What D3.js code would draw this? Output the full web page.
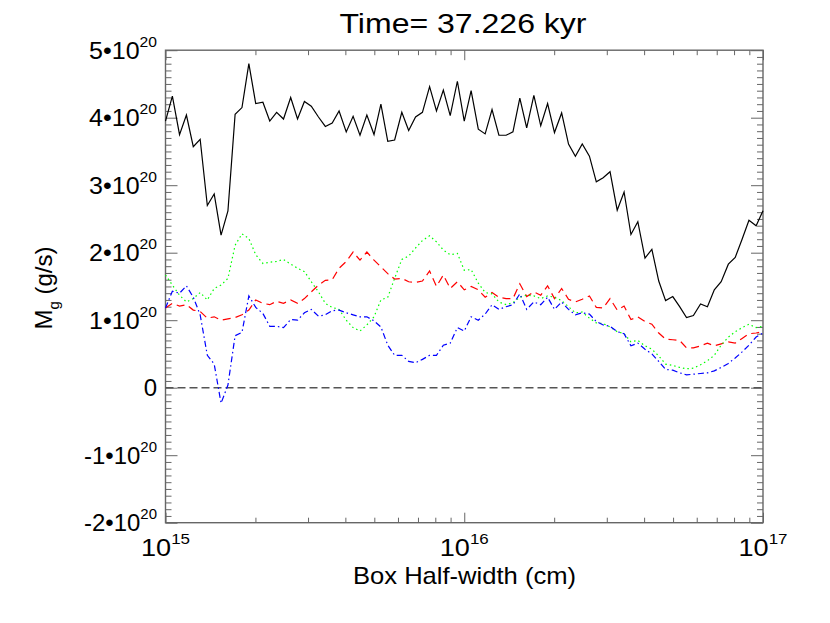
<!DOCTYPE html>
<html>
<head>
<meta charset="utf-8">
<script src="https://cdn.jsdelivr.net/npm/d3@7"></script>
<style>
  body { margin: 0; background: #fff; }
  text { font-family: 'Liberation Sans', Arial, Helvetica, sans-serif; fill: #000; }
</style>
</head>
<body>
<div id="chart"></div>
<script>
// log10 of box half-width (cm)
var logR = [
  15.000, 15.023, 15.047, 15.070, 15.093, 15.116, 15.140, 15.163, 15.186, 15.209,
  15.233, 15.256, 15.279, 15.302, 15.326, 15.349, 15.372, 15.395, 15.419, 15.442,
  15.465, 15.488, 15.512, 15.535, 15.558, 15.581, 15.605, 15.628, 15.651, 15.674,
  15.698, 15.721, 15.744, 15.767, 15.791, 15.814, 15.837, 15.860, 15.884, 15.907,
  15.930, 15.953, 15.977, 16.000, 16.023, 16.047, 16.070, 16.093, 16.116, 16.140,
  16.163, 16.186, 16.209, 16.233, 16.256, 16.279, 16.302, 16.326, 16.349, 16.372,
  16.395, 16.419, 16.442, 16.465, 16.488, 16.512, 16.535, 16.558, 16.581, 16.605,
  16.628, 16.651, 16.674, 16.698, 16.721, 16.744, 16.767, 16.791, 16.814, 16.837,
  16.860, 16.884, 16.907, 16.930, 16.953, 16.977, 17.000
];

// mass flux, units of 1e20 g/s
var mTotal = [
  3.95, 4.32, 3.75, 4.04, 3.57, 3.68, 2.70, 2.87, 2.26, 2.62,
  4.05, 4.15, 4.80, 4.21, 4.23, 3.95, 4.08, 3.98, 4.30, 3.98,
  4.24, 4.17, 4.01, 3.87, 3.92, 4.10, 3.79, 4.02, 3.74, 4.04,
  3.75, 4.20, 3.65, 3.67, 4.08, 3.81, 4.01, 4.08, 4.46, 4.10,
  4.41, 4.03, 4.54, 3.95, 4.40, 3.83, 3.76, 4.12, 3.74, 3.74,
  3.79, 4.29, 3.85, 4.33, 3.88, 4.21, 3.78, 4.07, 3.61, 3.43,
  3.61, 3.43, 3.05, 3.11, 3.20, 2.63, 2.90, 2.27, 2.46, 1.92,
  2.05, 1.58, 1.29, 1.35, 1.20, 1.04, 1.07, 1.24, 1.20, 1.45,
  1.57, 1.83, 1.93, 2.20, 2.48, 2.40, 2.62
];
var mRed = [
  1.18, 1.25, 1.21, 1.23, 1.15, 1.13, 1.03, 1.05, 1.00, 1.02,
  1.04, 1.08, 1.15, 1.30, 1.25, 1.23, 1.28, 1.25, 1.30, 1.25,
  1.32, 1.42, 1.52, 1.59, 1.60, 1.77, 1.87, 2.01, 1.89, 2.01,
  1.89, 1.79, 1.69, 1.61, 1.62, 1.57, 1.56, 1.58, 1.73, 1.50,
  1.67, 1.47, 1.57, 1.45, 1.50, 1.45, 1.34, 1.41, 1.34, 1.32,
  1.32, 1.54, 1.35, 1.42, 1.37, 1.51, 1.32, 1.47, 1.31, 1.27,
  1.31, 1.36, 1.19, 1.18, 1.32, 1.15, 1.21, 1.01, 1.05, 0.98,
  0.94, 0.81, 0.72, 0.71, 0.70, 0.59, 0.59, 0.62, 0.66, 0.62,
  0.65, 0.68, 0.66, 0.73, 0.80, 0.81, 0.83
];
var mGreen = [
  1.67, 1.52, 1.37, 1.27, 1.32, 1.41, 1.30, 1.47, 1.52, 1.62,
  2.11, 2.28, 2.21, 1.97, 1.84, 1.86, 1.87, 1.90, 1.83, 1.77,
  1.72, 1.57, 1.42, 1.25, 1.19, 1.16, 1.00, 0.89, 0.84, 0.93,
  1.05, 1.30, 1.34, 1.62, 1.90, 1.95, 2.07, 2.18, 2.25, 2.16,
  2.04, 1.97, 1.99, 1.74, 1.75, 1.55, 1.41, 1.39, 1.27, 1.23,
  1.26, 1.34, 1.37, 1.36, 1.32, 1.36, 1.34, 1.29, 1.20, 1.11,
  1.12, 1.03, 0.96, 0.95, 0.90, 0.83, 0.80, 0.68, 0.70, 0.62,
  0.57, 0.47, 0.35, 0.33, 0.30, 0.28, 0.29, 0.34, 0.40, 0.48,
  0.63, 0.75, 0.83, 0.89, 0.94, 0.89, 0.91
];
var mBlue = [
  1.18, 1.43, 1.40, 1.51, 1.34, 1.08, 0.48, 0.35, -0.23, 0.04,
  0.77, 0.82, 1.36, 1.19, 1.10, 0.91, 0.91, 0.89, 1.01, 1.00,
  1.11, 1.16, 1.06, 1.08, 1.14, 1.15, 1.11, 1.08, 1.05, 1.05,
  0.99, 0.90, 0.63, 0.48, 0.48, 0.39, 0.37, 0.42, 0.48, 0.48,
  0.63, 0.66, 0.89, 0.84, 1.05, 1.00, 1.09, 1.23, 1.16, 1.20,
  1.23, 1.39, 1.16, 1.27, 1.23, 1.34, 1.16, 1.27, 1.16, 1.08,
  1.11, 1.09, 0.98, 0.93, 0.91, 0.83, 0.80, 0.62, 0.66, 0.57,
  0.50, 0.39, 0.27, 0.26, 0.22, 0.19, 0.20, 0.21, 0.22, 0.25,
  0.30, 0.36, 0.44, 0.53, 0.63, 0.75, 0.81
];

var xMajor = [15, 16, 17];
var yMajor = [-2, -1, 0, 1, 2, 3, 4, 5];
var titleText = 'Time= 37.226 kyr';
var xTitle = 'Box Half-width (cm)';

var W = 830, H = 623;
var box = { left: 165.5, right: 763, top: 50.2, bottom: 522.7 };

var svg = d3.select('#chart').append('svg')
  .attr('width', W)
  .attr('height', H);

var x = d3.scaleLog()
  .domain([1e15, 1e17])
  .range([box.left, box.right]);

var y = d3.scaleLinear()
  .domain([-2, 5])
  .range([box.bottom, box.top]);

// minor ticks
var xMinor = [];
[15, 16].forEach(function(e) {
  for (var k = 2; k <= 9; k++) xMinor.push(k * Math.pow(10, e));
});
var yMinor = [];
for (var t = -20; t <= 50; t++) if (t % 10 !== 0) yMinor.push(t / 10);

function tickAxis(gen, values, size, tx, ty) {
  svg.append('g')
    .attr('class', 'tick-axis')
    .attr('transform', 'translate(' + tx + ',' + ty + ')')
    .call(gen.tickValues(values).tickSize(size).tickFormat(''))
    .call(function(g) { g.select('.domain').remove(); });
}

var majX = xMajor.map(function(e) { return Math.pow(10, e); });
tickAxis(d3.axisBottom(x), majX, -10, 0, box.bottom);
tickAxis(d3.axisBottom(x), xMinor, -5, 0, box.bottom);
tickAxis(d3.axisTop(x), majX, -10, 0, box.top);
tickAxis(d3.axisTop(x), xMinor, -5, 0, box.top);
tickAxis(d3.axisLeft(y), yMajor, -12, box.left, 0);
tickAxis(d3.axisLeft(y), yMinor, -6, box.left, 0);
tickAxis(d3.axisRight(y), yMajor, -12, box.right, 0);
tickAxis(d3.axisRight(y), yMinor, -6, box.right, 0);

svg.selectAll('.tick-axis line')
  .attr('stroke', '#666')
  .attr('stroke-width', 1);

// frame
svg.append('rect')
  .attr('x', box.left)
  .attr('y', box.top)
  .attr('width', box.right - box.left)
  .attr('height', box.bottom - box.top)
  .attr('fill', 'none')
  .attr('stroke', '#666')
  .attr('stroke-width', 1.4);

// tick labels
svg.append('g').selectAll('text')
  .data(xMajor)
  .enter().append('text')
    .attr('x', function(d) { return x(Math.pow(10, d)); })
    .attr('y', 556)
    .attr('text-anchor', 'middle')
    .attr('font-size', 24)
    .attr('textLength', 49)
    .attr('lengthAdjust', 'spacingAndGlyphs')
    .each(function(d) {
      var t = d3.select(this);
      t.append('tspan').text('10');
      t.append('tspan').attr('dy', -12).attr('font-size', 15).text(d);
    });

svg.append('g').selectAll('text')
  .data(yMajor)
  .enter().append('text')
    .attr('x', 157)
    .attr('y', function(d) { return y(d) + 8.5; })
    .attr('text-anchor', 'end')
    .attr('font-size', 24)
    .each(function(d) {
      var t = d3.select(this);
      if (d === 0) { t.text('0'); return; }
      t.attr('textLength', d < 0 ? 73 : 68).attr('lengthAdjust', 'spacingAndGlyphs');
      t.append('tspan').text(d + '\u202210');
      t.append('tspan').attr('dy', -12).attr('font-size', 15).text('20');
    });

// zero line
svg.append('line')
  .attr('x1', box.left)
  .attr('x2', box.right)
  .attr('y1', y(0))
  .attr('y2', y(0))
  .attr('stroke', '#555')
  .attr('stroke-width', 1.5)
  .attr('stroke-dasharray', '8,4');

var series = [
  { values: mTotal, color: '#000', dash: null },
  { values: mRed, color: '#ff0000', dash: '8,5' },
  { values: mGreen, color: '#00ff00', dash: '1.5,3' },
  { values: mBlue, color: '#0000ff', dash: '6,3,1.5,3' }
];

var lineGen = d3.line()
  .x(function(d) { return x(Math.pow(10, d[0])); })
  .y(function(d) { return y(d[1]); });

svg.append('g').selectAll('path')
  .data(series)
  .enter().append('path')
    .attr('fill', 'none')
    .attr('stroke', function(s) { return s.color; })
    .attr('stroke-width', 1.2)
    .attr('stroke-dasharray', function(s) { return s.dash; })
    .attr('d', function(s) {
      return lineGen(s.values.map(function(v, i) { return [logR[i], v]; }));
    });

// titles
svg.append('text')
  .attr('x', 463)
  .attr('y', 33)
  .attr('text-anchor', 'middle')
  .attr('font-size', 28)
  .attr('textLength', 247)
  .attr('lengthAdjust', 'spacingAndGlyphs')
  .text(titleText);

svg.append('text')
  .attr('x', 464.5)
  .attr('y', 584)
  .attr('text-anchor', 'middle')
  .attr('font-size', 24)
  .attr('textLength', 223)
  .attr('lengthAdjust', 'spacingAndGlyphs')
  .text(xTitle);

var yTitle = svg.append('text')
  .attr('transform', 'translate(52,288) rotate(-90)')
  .attr('text-anchor', 'middle')
  .attr('font-size', 24);
yTitle.append('tspan').text('M');
yTitle.append('tspan').attr('dy', 7).attr('font-size', 15).text('g');
yTitle.append('tspan').attr('dy', -7).text(' (g/s)');
</script>
</body>
</html>
